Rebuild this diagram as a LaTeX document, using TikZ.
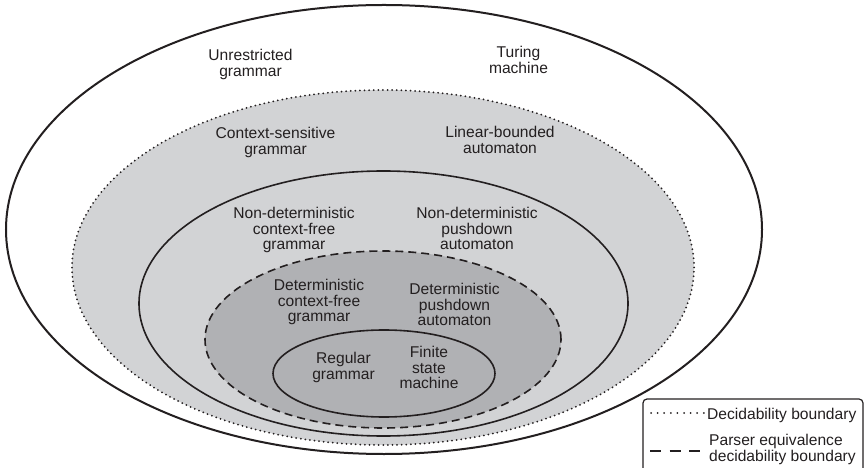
\documentclass[tikz,border=0pt]{standalone}
\usepackage{fontspec}
\setmainfont{Liberation Sans}
\usepackage{xcolor}
\usetikzlibrary{positioning,backgrounds,calc}
\definecolor{ink}{HTML}{231F20}
\definecolor{lightfill}{HTML}{D2D3D5}
\definecolor{darkfill}{HTML}{B0B1B4}

\begin{document}
\begin{tikzpicture}[x=1bp,y=-1bp,
  lbl/.style={anchor=north,inner sep=0pt,align=center,text=ink,font=\fontsize{15.6bp}{15.6bp}\selectfont},
  keytext/.style={anchor=north west,inner sep=0pt,align=left,text=ink,font=\fontsize{15.6bp}{15.8bp}\selectfont},
  solidline/.style={draw=ink,line width=1.6bp},
  dotline/.style={draw=ink,line width=2bp,line cap=round,dash pattern=on 0bp off 4.6bp},
  dashline/.style={draw=ink,line width=1.6bp,dash pattern=on 8bp off 5bp}]
\useasboundingbox (0,0) rectangle (864,468);

% nested language classes
\draw[solidline,line width=2bp] (384,229.5) ellipse [x radius=378bp,y radius=224.5bp];
\draw[dotline,fill=lightfill] (383,267.5) ellipse [x radius=311bp,y radius=177.5bp];
\draw[solidline,fill=lightfill] (383.5,303.5) ellipse [x radius=244.5bp,y radius=132.5bp];
\draw[dashline,fill=darkfill] (383,339.5) ellipse [x radius=178bp,y radius=88.5bp];
\draw[solidline,fill=darkfill] (384,373.5) ellipse [x radius=111bp,y radius=43.5bp];

\node[lbl] (ug) at (250.5,49) {Unrestricted\\grammar};
\node[lbl] (tm) at (518.5,46) {Turing\\machine};
\node[lbl] (csg) at (275.5,127) {Context-sensitive\\grammar};
\node[lbl] (lba) at (500,126) {Linear-bounded\\automaton};
\node[lbl] (ncfg) at (294,207) {Non-deterministic\\context-free\\grammar};
\node[lbl] (npda) at (477,207) {Non-deterministic\\pushdown\\automaton};
\node[lbl] (dcfg) at (319,279) {Deterministic\\context-free\\grammar};
\node[lbl] (dpda) at (454.5,283) {Deterministic\\pushdown\\automaton};
\node[lbl] (rg) at (343.5,352) {Regular\\grammar};
\node[lbl] (fsm) at (429,346) {Finite\\state\\machine};

% legend
\draw[ink,line width=1.2bp,rounded corners=4bp] (643,399) rectangle (863,480);
\coordinate (d1) at (651,413);
\coordinate (d2) at (704,413);
\draw[dotline,dash pattern=on 0bp off 6.6bp] (d1) -- (d2);
\node[keytext] (dkey) at (707,408) {Decidability boundary};
\coordinate (p1) at (650,451);
\coordinate (p2) at (700,451);
\draw[dashline,dash pattern=on 11bp off 8.5bp] (p1) -- (p2);
\node[keytext] (pkey) at (709,434) {Parser equivalence\\decidability boundary};
\end{tikzpicture}
\end{document}
